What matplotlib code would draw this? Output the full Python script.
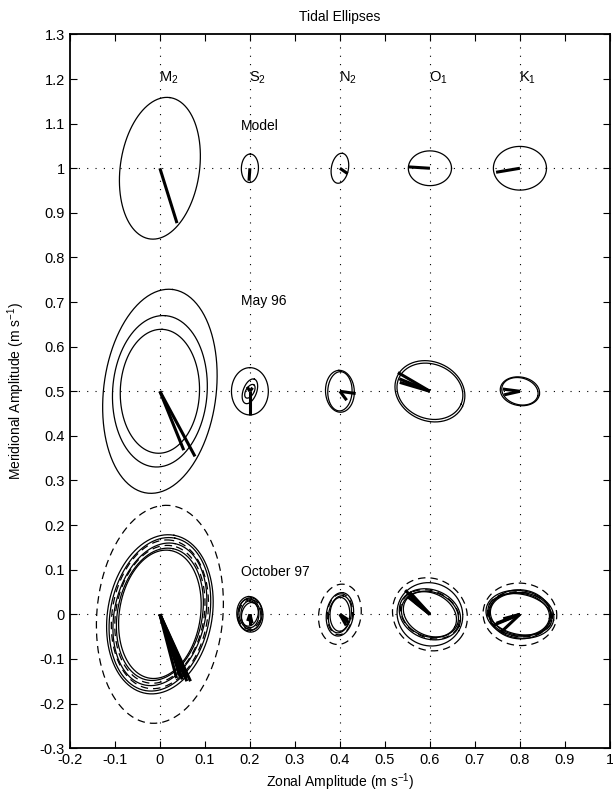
import numpy as np
import matplotlib
matplotlib.use('Agg')
import matplotlib.pyplot as plt

plt.rcParams['font.family'] = ['Liberation Sans', 'DejaVu Sans']
plt.rcParams['mathtext.fontset'] = 'custom'
plt.rcParams['mathtext.rm'] = 'Liberation Sans'
plt.rcParams['mathtext.it'] = 'Liberation Sans:italic'
plt.rcParams['mathtext.bf'] = 'Liberation Sans:bold'
plt.rcParams['mathtext.default'] = 'regular'
plt.rcParams['font.size'] = 10

# constituents and where they sit
constituents = ['M$_2$', 'S$_2$', 'N$_2$', 'O$_1$', 'K$_1$']
cons_x = [0.0, 0.2, 0.4, 0.6, 0.8]
row_y = [1.0, 0.5, 0.0]
row_names = ['Model', 'May 96', 'October 97']
row_label_y = [1.085, 0.693, 0.087]

# ellipses: (constituent index, semi-major, semi-minor, inclination deg, dashed)
model_ellipses = [
    (0, 0.160, 0.088, 82, False),
    (1, 0.032, 0.019, 88, False),
    (2, 0.034, 0.019, 80, False),
    (3, 0.048, 0.039, 0, False),
    (4, 0.059, 0.049, 0, False),
]
# current vectors: (constituent index, u, v)
model_vectors = [
    (0, 0.038, -0.123),
    (1, -0.002, -0.028),
    (2, 0.017, -0.012),
    (3, -0.047, 0.003),
    (4, -0.053, -0.009),
]

may_ellipses = [
    (0, 0.230, 0.125, 83, False),
    (0, 0.170, 0.105, 86, False),
    (0, 0.139, 0.088, 88, False),
    (1, 0.053, 0.041, 90, False),
    (1, 0.029, 0.015, 70, False),
    (1, 0.017, 0.009, 60, False),
    (2, 0.047, 0.032, 93, False),
    (2, 0.044, 0.027, 88, False),
    (3, 0.080, 0.066, -25, False),
    (3, 0.075, 0.061, -22, False),
    (4, 0.044, 0.032, -10, False),
    (4, 0.041, 0.030, -15, False),
]
may_vectors = [
    (0, 0.053, -0.132),
    (0, 0.078, -0.146),
    (1, 0.000, -0.053),
    (1, -0.006, 0.010),
    (1, 0.006, 0.008),
    (2, 0.035, -0.005),
    (2, 0.015, -0.020),
    (3, -0.071, 0.042),
    (3, -0.068, 0.028),
    (3, -0.067, 0.020),
    (4, -0.038, 0.005),
    (4, -0.035, -0.008),
]

oct_ellipses = [
    (0, 0.245, 0.140, 85, True),
    (0, 0.180, 0.116, 80, False),
    (0, 0.174, 0.110, 79, False),
    (0, 0.168, 0.106, 81, True),
    (0, 0.162, 0.101, 78, False),
    (0, 0.156, 0.098, 80, True),
    (0, 0.150, 0.094, 79, False),
    (0, 0.145, 0.090, 81, False),
    (1, 0.040, 0.029, 95, False),
    (1, 0.037, 0.027, 85, False),
    (1, 0.035, 0.024, 100, False),
    (1, 0.033, 0.025, 80, True),
    (1, 0.030, 0.020, 90, False),
    (1, 0.027, 0.018, 75, False),
    (2, 0.068, 0.047, 82, True),
    (2, 0.049, 0.030, 82, False),
    (2, 0.046, 0.028, 85, True),
    (2, 0.042, 0.025, 80, False),
    (2, 0.038, 0.022, 88, False),
    (3, 0.086, 0.079, -40, True),
    (3, 0.074, 0.070, -30, False),
    (3, 0.070, 0.055, -22, False),
    (3, 0.068, 0.052, -25, True),
    (3, 0.065, 0.050, -20, False),
    (3, 0.062, 0.047, -28, False),
    (4, 0.082, 0.070, -5, True),
    (4, 0.076, 0.053, -10, False),
    (4, 0.073, 0.050, -8, True),
    (4, 0.070, 0.049, -5, False),
    (4, 0.072, 0.045, -12, False),
    (4, 0.066, 0.047, -8, False),
    (4, 0.068, 0.055, -4, False),
]
oct_vectors = [
    (0, 0.037, -0.143),
    (0, 0.045, -0.140),
    (0, 0.050, -0.146),
    (0, 0.055, -0.140),
    (0, 0.062, -0.141),
    (0, 0.060, -0.150),
    (0, 0.068, -0.150),
    (1, 0.005, -0.020),
    (1, -0.005, -0.015),
    (1, 0.000, -0.025),
    (2, 0.020, -0.020),
    (2, 0.018, -0.012),
    (2, 0.014, -0.025),
    (3, -0.055, 0.054),
    (3, -0.050, 0.040),
    (3, -0.033, 0.027),
    (3, -0.045, 0.050),
    (4, -0.060, -0.025),
    (4, -0.037, -0.010),
    (4, -0.042, -0.040),
    (4, -0.052, -0.020),
]

all_ellipses = [model_ellipses, may_ellipses, oct_ellipses]
all_vectors = [model_vectors, may_vectors, oct_vectors]


def ellipse_xy(xc, yc, a, b, incl):
    t = np.linspace(0, 2 * np.pi, 200)
    th = np.deg2rad(incl)
    x = xc + a * np.cos(t) * np.cos(th) - b * np.sin(t) * np.sin(th)
    y = yc + a * np.cos(t) * np.sin(th) + b * np.sin(t) * np.cos(th)
    return x, y


fig = plt.figure(figsize=(6.13, 8.01), dpi=100)
ax = fig.add_axes([0.114, 0.066, 0.881, 0.891])

dots = (0, (1, 6.5))
for yy in row_y:
    ax.axhline(yy, color='k', lw=0.8, linestyle=dots, zorder=1)
for xx in cons_x:
    ax.axvline(xx, color='k', lw=0.8, linestyle=dots, zorder=1)

for r in range(3):
    yc = row_y[r]
    for (ci, a, b, incl, dashed) in all_ellipses[r]:
        x, y = ellipse_xy(cons_x[ci], yc, a, b, incl)
        if dashed:
            ax.plot(x, y, color='k', lw=0.9, linestyle=(0, (6, 4)))
        else:
            ax.plot(x, y, color='k', lw=0.9)
    for (ci, u, v) in all_vectors[r]:
        ax.plot([cons_x[ci], cons_x[ci] + u], [yc, yc + v], color='k', lw=2.2,
                solid_capstyle='butt')
    ax.text(0.18, row_label_y[r], row_names[r], fontsize=10, va='baseline', ha='left')

for name, xx in zip(constituents, cons_x):
    ax.text(xx - 0.002, 1.195, name, fontsize=10.5, va='baseline', ha='left')

ax.set_xlim(-0.2, 1.0)
ax.set_ylim(-0.3, 1.3)
ax.set_xticks(np.arange(-0.2, 1.01, 0.1))
ax.set_yticks(np.arange(-0.3, 1.31, 0.1))
ax.xaxis.set_major_formatter(plt.FuncFormatter(lambda v, p: '%g' % round(v, 2)))
ax.yaxis.set_major_formatter(plt.FuncFormatter(lambda v, p: '%g' % round(v, 2)))
ax.tick_params(direction='in', top=True, right=True, length=5, width=0.8, labelsize=10.5)
for s in ax.spines.values():
    s.set_linewidth(1.3)

ax.set_title('Tidal Ellipses', fontsize=10, pad=10)
ax.set_xlabel('Zonal Amplitude (m s$^{-1}$)', fontsize=10, labelpad=3)
ax.set_ylabel('Meridional Amplitude (m s$^{-1}$)', fontsize=10, labelpad=9)

fig.savefig('out.png', dpi=100)
